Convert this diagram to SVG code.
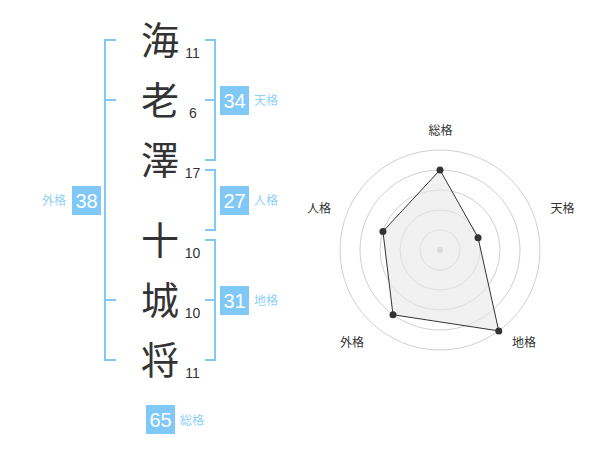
<svg xmlns="http://www.w3.org/2000/svg" width="600" height="470" viewBox="0 0 600 470">
<style>
.kanji{font-family:"Noto Sans CJK JP","Noto Sans CJK SC",sans-serif;font-size:38px;fill:#333;text-anchor:middle}
.stroke{font-family:"Liberation Sans",Arial,sans-serif;font-size:14px;fill:#333;text-anchor:middle}
.br{fill:none;stroke:#80c8f8;stroke-width:2}
.box{fill:#80c8f8}
.num{font-family:"Liberation Sans",Arial,sans-serif;font-size:20px;fill:#fff;text-anchor:middle}
.lab{font-family:"Noto Sans CJK JP","Noto Sans CJK SC",sans-serif;font-size:12px;fill:#8fd0f8}
.rlab{font-family:"Noto Sans CJK JP","Noto Sans CJK SC",sans-serif;font-size:12px;fill:#333;text-anchor:middle}
.ring{fill:none;stroke:#d0d0d0;stroke-width:1}
.pt{fill:#333}
</style>
<rect width="600" height="470" fill="#fff"/>
<g id="name">
<g id="c1"><text class="kanji" x="160" y="54">海</text><text class="stroke" x="192.5" y="57.5">11</text></g>
<g id="c2"><text class="kanji" x="160" y="114">老</text><text class="stroke" x="193" y="118">6</text></g>
<g id="c3"><text class="kanji" x="160" y="174">澤</text><text class="stroke" x="192.5" y="177.5">17</text></g>
<g id="c4"><text class="kanji" x="160" y="254">十</text><text class="stroke" x="192.5" y="258">10</text></g>
<g id="c5"><text class="kanji" x="160" y="314">城</text><text class="stroke" x="192.5" y="318">10</text></g>
<g id="c6"><text class="kanji" x="160" y="374">将</text><text class="stroke" x="192.5" y="378">11</text></g>
</g>
<g id="connectors">
<path class="br" d="M116,40 H105 V360 H116 M105,100 H116 M105,300 H116"/>
<path class="br" d="M205,40 H215 V160 H205 M205,100 H215"/>
<path class="br" d="M205,170 H215 V230 H205"/>
<path class="br" d="M205,240 H215 V360 H205 M205,300 H215"/>
</g>
<g id="gaikaku"><rect class="box" x="72" y="186" width="29" height="29"/><text class="num" x="86.5" y="207.5">38</text><text class="lab" x="66" y="204.5" text-anchor="end">外格</text></g>
<g id="tenkaku"><rect class="box" x="220" y="86" width="29" height="29"/><text class="num" x="234.5" y="107.5">34</text><text class="lab" x="254" y="104.5">天格</text></g>
<g id="jinkaku"><rect class="box" x="220" y="186" width="29" height="29"/><text class="num" x="234.5" y="207.5">27</text><text class="lab" x="254" y="204.5">人格</text></g>
<g id="chikaku"><rect class="box" x="220" y="286" width="29" height="29"/><text class="num" x="234.5" y="307.5">31</text><text class="lab" x="254" y="304.5">地格</text></g>
<g id="soukaku"><rect class="box" x="146" y="405" width="29" height="29"/><text class="num" x="160.5" y="426.5">65</text><text class="lab" x="180" y="424.5">総格</text></g>
<g id="radar">
<circle class="ring" cx="440" cy="250" r="20"/>
<circle class="ring" cx="440" cy="250" r="40"/>
<circle class="ring" cx="440" cy="250" r="60"/>
<circle class="ring" cx="440" cy="250" r="80"/>
<circle class="ring" cx="440" cy="250" r="100"/>
<circle cx="440" cy="250" r="3" fill="#c8c8c8"/>
<polygon points="440,170 478.04,237.64 498.78,330.9 392.98,314.72 382.94,231.46" fill="#e8e8e8" fill-opacity="0.6" stroke="#333" stroke-width="1"/>
<circle class="pt" cx="440" cy="170" r="3.5"/>
<circle class="pt" cx="478.04" cy="237.64" r="3.5"/>
<circle class="pt" cx="498.78" cy="330.9" r="3.5"/>
<circle class="pt" cx="392.98" cy="314.72" r="3.5"/>
<circle class="pt" cx="382.94" cy="231.46" r="3.5"/>
<text class="rlab" x="440.5" y="135">総格</text>
<text class="rlab" x="562.5" y="212.5">天格</text>
<text class="rlab" x="524" y="346.5">地格</text>
<text class="rlab" x="352" y="346.5">外格</text>
<text class="rlab" x="319" y="212.5">人格</text>
</g>
</svg>
